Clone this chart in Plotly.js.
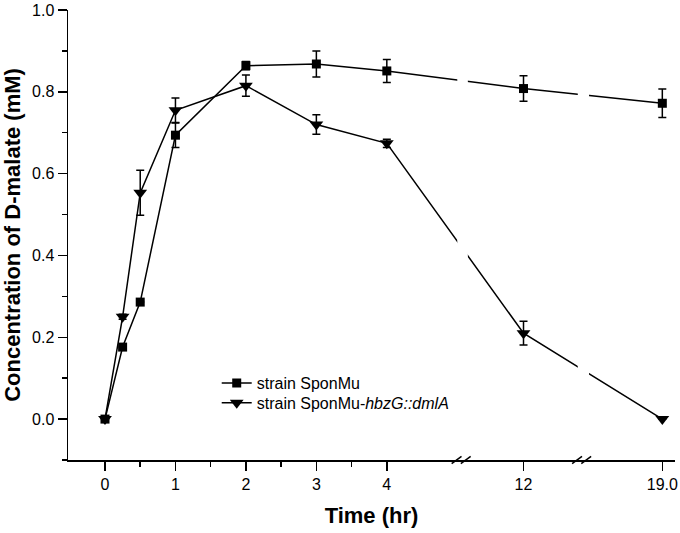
<!DOCTYPE html>
<html>
<head>
<meta charset="utf-8">
<script src="https://cdn.plot.ly/plotly-3.0.1.min.js"></script>
<style>
html,body{margin:0;padding:0;background:#fff;}
#chart{width:680px;height:533px;}
</style>
</head>
<body>
<div id="chart"></div>
<script>
// ---- data (time in hours, D-malate in mM) ----
const timeHr = [0, 0.25, 0.5, 1, 2, 3, 4, 12, 19];
const sponMu = [0, 0.176, 0.286, 0.694, 0.864, 0.868, 0.851, 0.808, 0.772];
const sponMuErr = [0, 0, 0, 0.030, 0.010, 0.032, 0.028, 0.031, 0.035];
const mutant = [0, 0.250, 0.553, 0.755, 0.815, 0.720, 0.674, 0.210, 0.0];
const mutantErr = [0, 0.006, 0.055, 0.030, 0.026, 0.024, 0.010, 0.029, 0];
const tickTimes = [0, 1, 2, 3, 4, 12, 19];
const tickLabels = ['0', '1', '2', '3', '4', '12', '19.0'];
const minorTimes = [0.5, 1.5, 2.5, 3.5];
const seriesNames = ['strain SponMu', 'strain SponMu-<i>hbzG::dmlA</i>'];

// ---- broken time axis scale: anchors (time -> axis position) ----
const anchorTime = [0, 4, 12, 19];
const anchorPos = [0, 4, 5.94, 7.91];
function scaleTime(t) {
  for (let i = 0; i < anchorTime.length - 1; i++) {
    if (t <= anchorTime[i + 1]) {
      const f = (t - anchorTime[i]) / (anchorTime[i + 1] - anchorTime[i]);
      return anchorPos[i] + f * (anchorPos[i + 1] - anchorPos[i]);
    }
  }
  return anchorPos[anchorPos.length - 1];
}
const breaks = [[5.0, 5.15], [6.71, 6.87]];

const xPos = timeHr.map(scaleTime);

const common = {
  type: 'scatter', mode: 'lines+markers', x: xPos,
  line: {color: '#000', width: 1.5}
};
const traces = [
  Object.assign({}, common, {
    name: seriesNames[0], y: sponMu, legend: 'legend',
    marker: {symbol: 'square', size: 9, color: '#000'},
    error_y: {type: 'data', array: sponMuErr, visible: true, color: '#000', thickness: 1.5, width: 4}
  }),
  Object.assign({}, common, {
    name: seriesNames[1], y: mutant, legend: 'legend2',
    marker: {symbol: 'triangle-down', size: 12, color: '#000'},
    error_y: {type: 'data', array: mutantErr, visible: true, color: '#000', thickness: 1.5, width: 4}
  })
];

const shapes = [];
breaks.forEach(function (b) {
  // gap in the data lines
  shapes.push({type: 'rect', xref: 'x', yref: 'y', x0: b[0], x1: b[1], y0: -0.085, y1: 1.0,
    fillcolor: '#fff', line: {width: 0}, layer: 'above'});
  // break marks on the axis
  [0, 0.13].forEach(function (off) {
    shapes.push({type: 'line', xref: 'x', yref: 'paper',
      x0: b[0] - 0.08 + off, x1: b[0] + 0.06 + off, y0: -0.008, y1: 0.008,
      line: {color: '#000', width: 1.5}, layer: 'above'});
  });
});

const fam = 'Liberation Sans, Arial, sans-serif';
const tickFont = {family: fam, size: 16, color: '#000'};
const titleFont = {family: fam, size: 22, color: '#000', weight: 'bold'};
const legFont = {family: fam, size: 16, color: '#000'};

const layout = {
  width: 680, height: 533,
  margin: {l: 68, r: 5, t: 10, b: 73},
  paper_bgcolor: '#fff', plot_bgcolor: '#fff',
  showlegend: true,
  legend: {x: 0.245, y: 0.171, xanchor: 'left', yanchor: 'middle',
    font: legFont, bgcolor: 'rgba(0,0,0,0)', itemwidth: 30},
  legend2: {x: 0.245, y: 0.127, xanchor: 'left', yanchor: 'middle',
    font: legFont, bgcolor: 'rgba(0,0,0,0)', itemwidth: 30},
  xaxis: {
    range: [-0.525, 8.09], showgrid: false, zeroline: false,
    showline: true, linecolor: '#000', linewidth: 1.5,
    ticks: 'outside', ticklen: 9, tickwidth: 1.5, tickcolor: '#000',
    tickmode: 'array', tickvals: tickTimes.map(scaleTime), ticktext: tickLabels,
    tickfont: tickFont,
    minor: {tickmode: 'array', tickvals: minorTimes.map(scaleTime), ticks: 'outside', ticklen: 5, tickwidth: 1.5, tickcolor: '#000'},
    title: {text: 'Time (hr)', font: titleFont, standoff: 16}
  },
  yaxis: {
    range: [-0.1, 1.0], showgrid: false, zeroline: false,
    showline: true, linecolor: '#000', linewidth: 1.5,
    ticks: 'outside', ticklen: 9, tickwidth: 1.5, tickcolor: '#000',
    tickmode: 'linear', tick0: 0, dtick: 0.2, tickformat: '.1f',
    tickfont: tickFont,
    minor: {tickmode: 'linear', tick0: 0, dtick: 0.1, ticks: 'outside', ticklen: 5, tickwidth: 1.5, tickcolor: '#000'},
    title: {text: 'Concentration of D-malate (mM)', font: titleFont, standoff: 8}
  },
  shapes: shapes
};

Plotly.newPlot('chart', traces, layout, {displayModeBar: false, staticPlot: true});
</script>
</body>
</html>
